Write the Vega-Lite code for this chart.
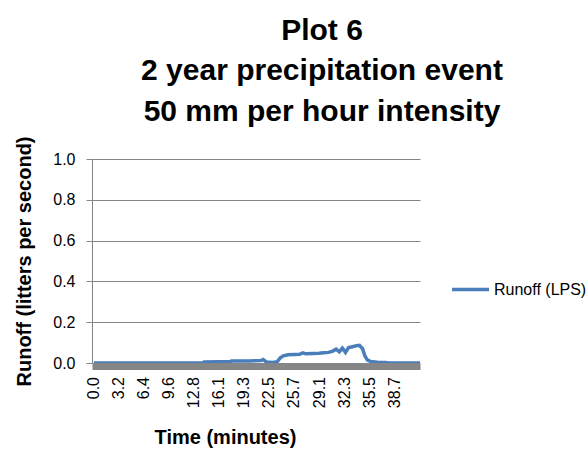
{
  "$schema": "https://vega.github.io/schema/vega-lite/v6.json",
  "autosize": {"type": "none"},
  "padding": {"left": 92, "top": 159, "right": 168, "bottom": 86},
  "width": 328,
  "height": 204,
  "background": "white",
  "config": {
    "font": "Liberation Sans",
    "view": {"stroke": null}
  },
  "title": {
    "text": ["Plot 6", "2 year precipitation event", "50 mm per hour intensity"],
    "font": "Liberation Sans",
    "fontSize": 30,
    "fontWeight": "bold",
    "color": "#000000",
    "anchor": "middle",
    "dx": 66,
    "offset": 9,
    "lineHeight": 40.5
  },
  "data": {
    "values": [
      {"time": 0, "runoff": 0},
      {"time": 5, "runoff": 0},
      {"time": 10, "runoff": 0},
      {"time": 14.0, "runoff": 0},
      {"time": 14.2, "runoff": 0.005},
      {"time": 16.0, "runoff": 0.006},
      {"time": 17.5, "runoff": 0.006},
      {"time": 17.7, "runoff": 0.01},
      {"time": 20.0, "runoff": 0.01},
      {"time": 21.5, "runoff": 0.012},
      {"time": 21.8, "runoff": 0.017},
      {"time": 22.2, "runoff": 0.005},
      {"time": 23.0, "runoff": 0.003},
      {"time": 23.6, "runoff": 0.006},
      {"time": 24.0, "runoff": 0.025},
      {"time": 24.4, "runoff": 0.035},
      {"time": 25.0, "runoff": 0.04},
      {"time": 25.8, "runoff": 0.042},
      {"time": 26.5, "runoff": 0.043},
      {"time": 26.9, "runoff": 0.05},
      {"time": 27.3, "runoff": 0.045},
      {"time": 28.2, "runoff": 0.047},
      {"time": 29.0, "runoff": 0.048},
      {"time": 29.6, "runoff": 0.05},
      {"time": 30.2, "runoff": 0.052},
      {"time": 30.7, "runoff": 0.057},
      {"time": 31.2, "runoff": 0.068},
      {"time": 31.6, "runoff": 0.055},
      {"time": 32.0, "runoff": 0.073},
      {"time": 32.4, "runoff": 0.052},
      {"time": 32.8, "runoff": 0.076},
      {"time": 33.3, "runoff": 0.08},
      {"time": 33.8, "runoff": 0.085},
      {"time": 34.2, "runoff": 0.087},
      {"time": 34.6, "runoff": 0.07},
      {"time": 34.9, "runoff": 0.035},
      {"time": 35.2, "runoff": 0.015},
      {"time": 35.6, "runoff": 0.008},
      {"time": 36.5, "runoff": 0.004},
      {"time": 37.5, "runoff": 0.003},
      {"time": 38.0, "runoff": 0},
      {"time": 42.0, "runoff": 0}
    ]
  },
  "mark": {"type": "line", "strokeWidth": 3.5, "clip": true},
  "encoding": {
    "x": {
      "field": "time",
      "type": "quantitative",
      "scale": {"domain": [-0.25, 42], "nice": false, "zero": false},
      "axis": {
        "title": "Time (minutes)",
        "titleFontSize": 20,
        "titleFontWeight": "bold",
        "titleColor": "#000000",
        "titleX": 133,
        "titlePadding": 20,
        "values": [0, 3.2, 6.4, 9.6, 12.8, 16.1, 19.3, 22.5, 25.7, 29.1, 32.3, 35.5, 38.7],
        "format": ".1f",
        "labelAngle": -90,
        "labelFontSize": 16,
        "labelColor": "#000000",
        "labelPadding": 10,
        "labelOverlap": false,
        "labelFlush": false,
        "ticks": false,
        "tickSize": 0,
        "grid": false,
        "domainColor": "#868686",
        "domainWidth": 6,
        "offset": 3.5
      }
    },
    "y": {
      "field": "runoff",
      "type": "quantitative",
      "scale": {"domain": [0, 1], "nice": false},
      "axis": {
        "title": "Runoff (litters per second)",
        "titleFontSize": 20,
        "titleFontWeight": "bold",
        "titleColor": "#000000",
        "titlePadding": 18,
        "values": [0, 0.2, 0.4, 0.6, 0.8, 1.0],
        "format": ".1f",
        "labelFontSize": 16,
        "labelColor": "#000000",
        "labelPadding": 11,
        "tickSize": 6,
        "tickColor": "#868686",
        "gridColor": "#868686",
        "gridWidth": 1,
        "domainColor": "#868686"
      }
    },
    "color": {
      "datum": "Runoff (LPS)",
      "scale": {"range": ["#4a7ebb"]},
      "legend": {
        "title": null,
        "orient": "none",
        "legendX": 358,
        "legendY": 110,
        "symbolType": "stroke",
        "symbolSize": 1369,
        "symbolStrokeWidth": 3.5,
        "labelFontSize": 16,
        "labelColor": "#000000",
        "labelOffset": 3
      }
    }
  }
}
